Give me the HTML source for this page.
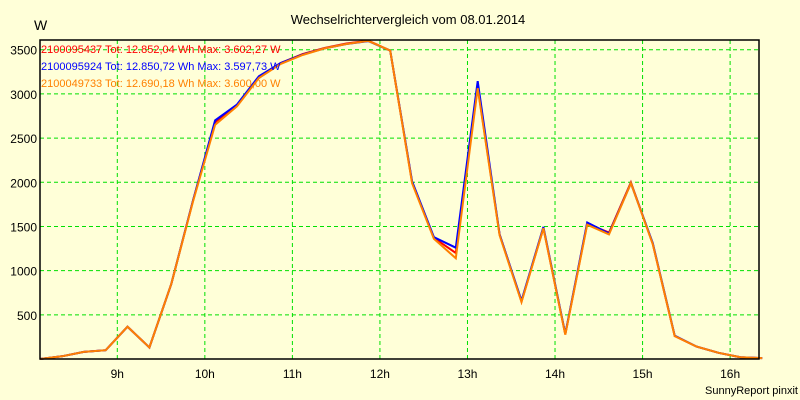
<!DOCTYPE html>
<html><head><meta charset="utf-8"><style>
html,body{margin:0;padding:0;background:#ffffd8;}
svg{display:block;font-family:"Liberation Sans",sans-serif;}
</style></head><body>
<svg width="800" height="400" viewBox="0 0 800 400">
<rect width="800" height="400" fill="#ffffd8"/>
<text x="408" y="24" font-size="13" text-anchor="middle" fill="#000">Wechselrichtervergleich vom 08.01.2014</text>
<text x="34" y="30" font-size="14" fill="#000">W</text>
<g id="grid"></g>
<g id="yticks"></g>
<g id="xticks"></g>
<g id="series"></g>
<rect x="40" y="40" width="719" height="319" fill="none" stroke="#000" stroke-width="1.5"/>
<g font-size="11">
<text x="41" y="53" fill="#ff0000">2100095437 Tot: 12.852,04 Wh Max: 3.602,27 W</text>
<text x="41" y="70" fill="#0000ff">2100095924 Tot: 12.850,72 Wh Max: 3.597,73 W</text>
<text x="41" y="87" fill="#ff8000">2100049733 Tot: 12.690,18 Wh Max: 3.600,00 W</text>
</g>
<text x="798" y="394" font-size="11" text-anchor="end" fill="#000">SunnyReport pinxit</text>
</svg>
<script>
const hourTicks=[9,10,11,12,13,14,15,16];
const yTicks=[500,1000,1500,2000,2500,3000,3500];
const startHour=8.117, stepHour=0.25;
const seriesRed=[0,30,80,100,365,130,850,1800,2680,2870,3190,3350,3450,3520,3570,3602,3490,2000,1370,1200,3080,1410,650,1480,280,1530,1430,2000,1300,260,140,70,20,10];
const seriesBlue=[0,30,80,100,365,130,850,1800,2700,2880,3200,3350,3445,3515,3565,3598,3490,2010,1380,1260,3145,1410,660,1495,285,1545,1420,1990,1310,265,140,70,20,10];
const seriesOrange=[0,30,80,100,365,130,850,1790,2650,2860,3180,3340,3440,3515,3565,3600,3490,1990,1360,1140,3065,1400,645,1480,275,1520,1410,1990,1300,260,140,70,20,10];
const L=40,R=759,T=40,B=359,hMin=startHour,hMax=16.33,vMax=3610;
const xs=h=>L+(h-hMin)/(hMax-hMin)*(R-L);
const ys=v=>B-v/vMax*(B-T);
const NS="http://www.w3.org/2000/svg";
function mk(tag,attrs,parent){const e=document.createElementNS(NS,tag);for(const k in attrs)e.setAttribute(k,attrs[k]);parent.appendChild(e);return e;}
const grid=document.getElementById('grid'),yt=document.getElementById('yticks'),xt=document.getElementById('xticks'),sg=document.getElementById('series');
yTicks.forEach(v=>{
 const l=mk('line',{x1:L,x2:R,y1:ys(v),y2:ys(v),stroke:'#00e000','stroke-dasharray':'4,3','stroke-width':1},grid);
 
 
 const t=mk('text',{x:L-3,y:ys(v)+5,'font-size':12,'text-anchor':'end',fill:'#000'},yt);
 t.textContent=v;
 
 
});
hourTicks.forEach(h=>{
 const l=mk('line',{x1:xs(h),x2:xs(h),y1:T,y2:B,stroke:'#00e000','stroke-dasharray':'4,3','stroke-width':1},grid);
 
 
 const t=mk('text',{x:xs(h),y:378,'font-size':12,'text-anchor':'middle',fill:'#000'},xt);
 t.textContent=h+'h';
 
 
});
[[seriesRed,'#ff0000','series-red'],[seriesBlue,'#0000ff','series-blue'],[seriesOrange,'#ff8000','series-orange']].forEach(([d,c,n])=>{
 const pts=d.map((v,i)=>xs(hMin+i*stepHour).toFixed(1)+','+ys(v).toFixed(1)).join(' ');
 const p=mk('polyline',{points:pts,fill:'none',stroke:c,'stroke-width':2,'stroke-linejoin':'miter'},sg);
 
 
});
</script>
</body></html>
